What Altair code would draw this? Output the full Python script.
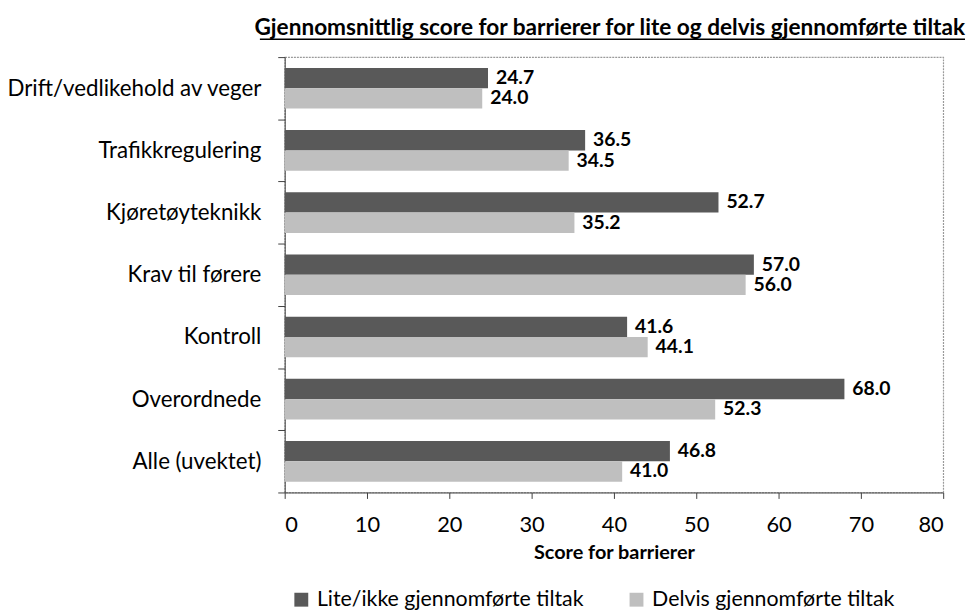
import altair as alt
import pandas as pd

kategorier = [
    "Drift/vedlikehold av veger",
    "Trafikkregulering",
    "Kjøretøyteknikk",
    "Krav til førere",
    "Kontroll",
    "Overordnede",
    "Alle (uvektet)",
]
serier = ["Lite/ikke gjennomførte tiltak", "Delvis gjennomførte tiltak"]
lite_ikke = [24.7, 36.5, 52.7, 57.0, 41.6, 68.0, 46.8]
delvis = [24.0, 34.5, 35.2, 56.0, 44.1, 52.3, 41.0]
x_ticks = [0, 10, 20, 30, 40, 50, 60, 70, 80]
tittel = ["Gjennomsnittlig score for barrierer for lite og delvis gjennomførte tiltak"]

rows = []
for k, a, b in zip(kategorier, lite_ikke, delvis):
    rows.append({"kategori": k, "serie": serier[0], "verdi": a, "label": f"{a:.1f}"})
    rows.append({"kategori": k, "serie": serier[1], "verdi": b, "label": f"{b:.1f}"})
df = pd.DataFrame(rows)

FONT = "Lato"
DARK = "#595959"
LIGHT = "#bfbfbf"
AXIS = "#404040"

base = alt.Chart(df).encode(
    y=alt.Y(
        "kategori:N",
        sort=kategorier,
        scale=alt.Scale(paddingInner=0, paddingOuter=0),
        axis=alt.Axis(
            title=None,
            tickBand="extent",
            labelFontSize=22.5,
            labelPadding=17,
            labelLimit=400,
            labelColor="#000000",
            tickSize=7,
            tickColor=AXIS,
            domainColor=AXIS,
            grid=False,
        ),
    ),
    yOffset=alt.YOffset(
        "serie:N",
        sort=serier,
        scale=alt.Scale(paddingInner=0, paddingOuter=0.53),
    ),
)

bars = base.mark_bar().encode(
    x=alt.X(
        "verdi:Q",
        scale=alt.Scale(domain=[0, 80], nice=False),
        axis=alt.Axis(
            values=x_ticks,
            title="Score for barrierer",
            titleFontSize=20,
            titleFontWeight="bold",
            titleColor="#000000",
            titlePadding=8,
            labelFontSize=22,
            labelColor="#000000",
            labelPadding=16,
            tickSize=6,
            tickColor=AXIS,
            domainColor=AXIS,
            grid=False,
        ),
    ),
    color=alt.Color(
        "serie:N",
        sort=serier,
        scale=alt.Scale(domain=serier, range=[DARK, LIGHT]),
        legend=alt.Legend(
            title=None,
            orient="none",
            direction="horizontal",
            legendX=6,
            legendY=536,
            symbolType="square",
            symbolSize=196,
            symbolStrokeWidth=0,
            labelFontSize=21.5,
            labelColor="#000000",
            labelOffset=5,
            columnPadding=42,
            labelLimit=500,
        ),
    ),
)

labels = base.mark_text(
    align="left", baseline="middle", dx=8, fontSize=19.5, fontWeight="bold", color="#000000"
).encode(x="verdi:Q", text="label:N")

title_text = alt.Chart(alt.Data(values=[{"t": tittel[0]}])).mark_text(
    align="right", baseline="alphabetic", fontSize=22.8, fontWeight="bold", color="#000000"
).encode(x=alt.value(686), y=alt.value(-22), text="t:N")

underline = alt.Chart(alt.Data(values=[{"u": 1}])).mark_rule(
    color="#000000", strokeWidth=1.3
).encode(x=alt.value(-25), x2=alt.value(686), y=alt.value(-18))

chart = alt.layer(bars, labels, title_text, underline).properties(
    width=664,
    height=439,
    autosize=alt.AutoSizeParams(type="none"),
    padding={"left": 279, "top": 47, "right": 23, "bottom": 116},
).configure(font=FONT).configure_view(
    stroke="#9a9a9a", strokeDash=[2, 1], strokeWidth=1.2
)

chart.save("out.html", embed_options={"renderer": "svg", "actions": False})
